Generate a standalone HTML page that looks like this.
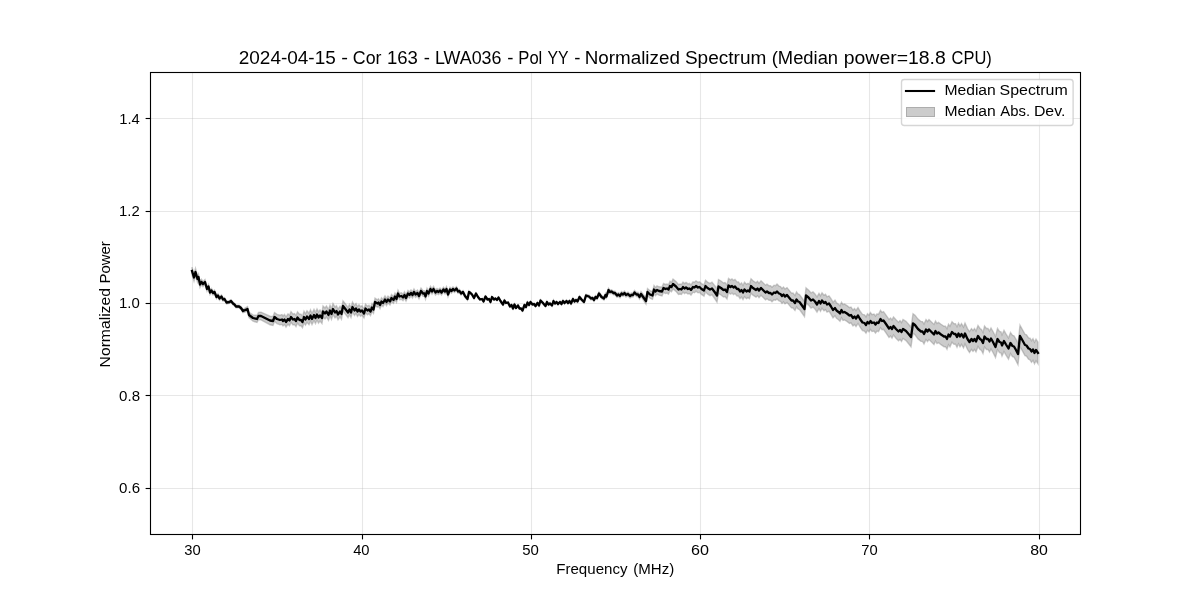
<!DOCTYPE html>
<html><head><meta charset="utf-8"><title>Normalized Spectrum</title>
<style>
html,body{margin:0;padding:0;background:#fff;}
body{width:1200px;height:600px;overflow:hidden;}
svg{display:block;}
text{font-family:"Liberation Sans",sans-serif;fill:#000;}
</style></head><body>
<svg width="1200" height="600" viewBox="0 0 1200 600">
<rect x="0" y="0" width="1200" height="600" fill="#ffffff"/>
<g stroke="#b0b0b0" stroke-opacity="0.3" stroke-width="1.11" fill="none"><line x1="192.5" y1="72.5" x2="192.5" y2="534.5"/><line x1="362.5" y1="72.5" x2="362.5" y2="534.5"/><line x1="531.5" y1="72.5" x2="531.5" y2="534.5"/><line x1="700.5" y1="72.5" x2="700.5" y2="534.5"/><line x1="869.5" y1="72.5" x2="869.5" y2="534.5"/><line x1="1039.5" y1="72.5" x2="1039.5" y2="534.5"/><line x1="150.5" y1="118.5" x2="1080.5" y2="118.5"/><line x1="150.5" y1="211.5" x2="1080.5" y2="211.5"/><line x1="150.5" y1="303.5" x2="1080.5" y2="303.5"/><line x1="150.5" y1="395.5" x2="1080.5" y2="395.5"/><line x1="150.5" y1="488.5" x2="1080.5" y2="488.5"/></g>
<path d="M192.0,267.1 L194.0,273.8 L195.5,268.4 L197.5,275.7 L198.5,273.9 L200.0,281.6 L201.5,279.3 L203.0,281.4 L205.0,279.6 L207.0,286.7 L208.5,284.3 L210.0,290.4 L211.5,288.5 L213.0,291.0 L214.5,290.1 L216.5,295.2 L218.0,293.7 L219.5,296.8 L221.5,294.9 L223.0,297.9 L224.5,297.5 L226.5,301.0 L229.5,300.6 L231.0,299.6 L233.0,302.1 L234.5,303.2 L236.0,305.2 L239.0,305.3 L241.0,306.6 L243.0,309.3 L247.5,306.6 L249.0,312.4 L253.0,314.9 L257.0,315.5 L258.5,312.4 L261.0,312.1 L266.0,314.4 L270.0,316.2 L273.0,316.6 L274.5,312.5 L277.0,314.4 L280.0,315.2 L282.0,314.6 L283.0,316.1 L284.5,314.5 L286.0,316.9 L288.0,313.8 L289.5,315.2 L291.0,311.6 L293.0,314.1 L294.5,313.5 L296.0,315.4 L297.5,311.8 L299.5,314.2 L301.0,314.2 L302.5,316.2 L304.0,311.2 L305.5,313.8 L307.0,310.8 L309.0,313.3 L310.5,309.8 L312.0,313.4 L314.0,309.4 L315.5,312.4 L317.0,308.9 L318.5,311.9 L320.0,309.9 L322.0,312.5 L323.0,306.0 L325.0,308.0 L326.5,306.0 L328.5,309.6 L330.0,305.1 L331.5,308.6 L333.0,303.6 L335.0,307.1 L336.5,305.7 L338.0,309.2 L340.0,306.2 L341.5,308.7 L343.0,300.8 L345.0,303.3 L348.0,307.4 L349.5,304.4 L351.0,307.5 L352.5,302.0 L354.5,305.6 L356.0,303.6 L357.5,306.6 L359.0,304.7 L360.5,306.7 L362.0,305.8 L364.0,309.0 L365.5,304.1 L367.5,306.2 L369.0,305.3 L370.5,307.4 L372.0,303.5 L373.5,305.6 L375.0,298.2 L377.5,299.8 L378.5,298.8 L380.0,301.3 L381.5,297.8 L383.0,299.4 L385.0,295.9 L386.5,298.4 L388.0,296.0 L390.0,298.0 L391.5,294.5 L393.5,296.6 L395.0,293.1 L396.5,295.6 L398.0,290.2 L399.5,293.2 L401.5,292.7 L403.0,294.3 L404.5,291.8 L406.0,294.8 L408.0,290.4 L409.5,291.9 L411.0,289.9 L412.5,291.9 L414.0,289.0 L415.5,291.5 L417.5,290.1 L419.0,293.1 L421.0,288.1 L423.0,290.7 L424.5,290.7 L425.5,293.7 L427.0,288.2 L428.5,290.8 L430.5,286.3 L432.0,288.8 L433.5,286.4 L435.5,289.9 L437.0,288.4 L438.5,289.5 L440.0,288.0 L441.5,290.0 L443.5,287.1 L445.0,289.1 L446.5,286.6 L448.0,292.2 L450.0,287.2 L451.5,288.8 L453.0,286.9 L454.5,288.5 L456.5,286.6 L458.0,289.7 L459.5,289.3 L461.0,291.9 L463.0,290.5 L465.0,294.6 L467.5,297.8 L469.0,290.8 L470.5,291.9 L472.0,293.5 L474.0,297.1 L476.0,292.8 L478.0,296.4 L480.0,299.0 L482.0,298.5 L483.5,301.0 L485.5,296.0 L487.5,298.9 L489.0,298.4 L490.5,301.4 L492.0,296.4 L494.0,298.9 L495.5,297.9 L497.0,299.4 L498.5,296.9 L500.5,300.4 L503.0,303.8 L504.5,299.8 L506.0,302.3 L508.0,301.8 L510.0,305.8 L511.5,304.3 L513.0,307.8 L514.5,303.8 L516.0,307.3 L518.0,304.7 L519.5,307.7 L521.0,307.7 L522.5,309.7 L524.5,304.2 L526.0,306.2 L527.5,301.7 L529.0,304.2 L530.5,301.2 L532.5,303.6 L534.0,303.1 L535.5,305.1 L537.5,302.1 L539.0,304.6 L540.5,299.6 L542.5,301.6 L545.5,305.1 L547.0,301.1 L548.5,303.5 L550.0,302.5 L552.0,304.5 L553.5,300.0 L555.0,302.5 L556.5,301.0 L558.0,303.0 L560.0,301.0 L561.5,303.0 L563.0,299.9 L564.5,301.9 L566.5,299.9 L568.0,301.9 L569.5,299.9 L571.0,302.4 L573.0,297.9 L574.5,300.4 L576.0,298.9 L577.5,300.4 L579.5,295.8 L581.5,298.3 L584.0,300.8 L586.0,294.3 L589.0,295.2 L591.0,297.1 L592.5,296.6 L594.0,298.6 L595.5,295.5 L597.0,296.5 L599.0,291.9 L601.5,295.4 L604.0,296.8 L605.5,293.3 L606.5,294.8 L608.5,288.3 L610.0,290.2 L611.5,289.7 L613.5,291.2 L615.0,291.2 L617.0,293.6 L618.5,292.6 L620.0,294.1 L621.5,291.6 L623.0,292.6 L624.5,291.0 L626.0,293.0 L628.0,292.0 L630.0,293.9 L631.5,292.9 L633.0,292.9 L634.5,290.4 L636.5,292.4 L638.0,292.3 L639.5,294.8 L641.0,291.6 L643.5,294.7 L646.0,297.8 L647.5,288.6 L650.0,290.7 L652.5,291.6 L654.0,285.5 L655.5,287.4 L657.0,285.9 L659.0,286.8 L662.0,287.1 L663.5,283.5 L665.5,284.4 L667.0,283.9 L668.5,284.8 L670.0,281.2 L671.5,282.2 L673.0,279.1 L676.0,281.6 L678.5,284.6 L680.0,284.0 L681.5,284.5 L683.0,282.0 L684.5,283.5 L686.0,282.4 L688.0,283.9 L689.5,283.4 L691.0,284.9 L693.0,281.8 L694.5,282.3 L696.0,280.8 L698.0,282.2 L699.5,281.7 L701.5,283.6 L704.0,284.9 L705.5,280.2 L707.5,282.1 L710.0,283.4 L712.0,282.2 L715.0,285.9 L717.0,288.8 L718.5,279.6 L721.0,281.0 L723.5,283.0 L725.0,282.5 L727.0,285.0 L728.5,278.4 L730.5,279.9 L732.0,278.9 L733.5,280.4 L735.0,279.4 L737.0,281.9 L738.5,281.9 L740.0,284.4 L741.5,282.9 L743.0,285.4 L744.5,282.3 L746.5,284.3 L748.0,283.3 L749.5,284.3 L751.0,278.8 L753.0,280.8 L756.0,282.8 L757.5,281.3 L759.0,283.3 L761.0,280.7 L763.0,282.7 L765.5,285.2 L767.0,284.2 L769.0,285.7 L770.5,285.7 L772.0,287.2 L774.0,285.2 L775.5,285.7 L777.0,284.1 L779.0,286.1 L780.5,286.6 L782.0,288.6 L783.5,287.1 L785.0,289.1 L787.0,287.6 L789.0,290.1 L791.5,293.1 L793.0,293.0 L795.0,295.5 L796.5,292.0 L798.0,294.0 L799.5,294.5 L802.0,298.0 L804.5,301.5 L806.0,287.9 L808.5,289.9 L811.0,292.9 L813.0,291.9 L815.0,293.9 L817.0,296.9 L819.0,293.3 L820.5,295.8 L822.0,292.8 L824.0,295.3 L825.5,294.3 L827.0,296.8 L829.0,295.8 L831.0,298.7 L833.0,302.2 L835.0,300.2 L836.5,302.7 L838.5,304.2 L840.0,305.7 L841.5,302.2 L843.0,304.6 L844.5,304.1 L847.0,305.6 L849.5,307.6 L851.0,307.1 L853.0,310.1 L854.5,308.5 L856.0,310.5 L858.0,307.5 L860.0,311.0 L862.5,314.4 L864.5,314.8 L866.0,316.8 L867.5,313.7 L869.0,315.2 L870.5,312.6 L872.0,314.6 L874.0,314.0 L875.5,316.0 L877.0,313.9 L878.5,314.4 L880.5,310.3 L882.0,312.3 L883.5,311.7 L886.0,315.1 L889.0,319.5 L890.5,318.0 L892.0,319.9 L893.5,316.9 L896.0,319.8 L898.5,322.2 L900.0,320.6 L901.5,322.6 L903.0,319.5 L906.0,321.4 L909.0,324.8 L911.0,327.3 L913.0,313.7 L915.0,315.2 L918.0,319.1 L921.0,321.6 L922.5,321.6 L924.0,324.1 L926.0,319.5 L927.5,321.5 L929.0,319.5 L930.5,321.0 L932.0,322.4 L934.0,324.4 L935.5,320.9 L937.0,323.4 L938.5,322.4 L941.0,324.3 L944.0,326.3 L945.5,326.3 L947.0,328.7 L948.5,324.2 L950.0,326.2 L952.0,321.7 L954.0,323.7 L955.5,323.7 L957.0,326.7 L958.5,323.2 L960.0,326.1 L961.5,323.6 L963.5,327.1 L965.0,323.1 L967.5,328.6 L969.5,331.6 L971.5,328.6 L973.0,330.6 L974.5,328.6 L976.0,331.1 L978.0,325.5 L980.0,328.5 L981.5,329.5 L983.0,332.5 L984.5,326.0 L986.5,328.5 L988.0,328.5 L989.5,331.0 L991.0,328.0 L993.0,331.5 L995.5,336.4 L997.5,328.4 L999.5,331.4 L1001.0,331.9 L1002.0,334.9 L1004.0,330.4 L1006.0,333.9 L1008.5,337.9 L1010.5,332.4 L1012.5,335.3 L1014.0,335.8 L1016.0,339.3 L1018.0,343.3 L1020.0,325.3 L1022.0,328.8 L1025.0,334.3 L1026.5,334.8 L1028.5,337.8 L1030.0,338.2 L1031.5,340.7 L1033.0,338.7 L1034.5,342.2 L1036.0,339.2 L1038.0,342.2 L1038.0,363.8 L1036.0,360.8 L1034.5,363.8 L1033.0,360.3 L1031.5,362.3 L1030.0,359.8 L1028.5,359.2 L1026.5,356.2 L1025.0,355.7 L1022.0,350.2 L1020.0,346.7 L1018.0,364.7 L1016.0,360.7 L1014.0,357.2 L1012.5,356.7 L1010.5,353.6 L1008.5,359.1 L1006.0,355.1 L1004.0,351.6 L1002.0,356.1 L1001.0,353.1 L999.5,352.6 L997.5,349.6 L995.5,357.6 L993.0,352.5 L991.0,349.0 L989.5,352.0 L988.0,349.5 L986.5,349.5 L984.5,347.0 L983.0,353.5 L981.5,350.5 L980.0,349.5 L978.0,346.5 L976.0,351.9 L974.5,349.4 L973.0,351.4 L971.5,349.4 L969.5,352.4 L967.5,349.4 L965.0,343.9 L963.5,347.9 L961.5,344.4 L960.0,346.9 L958.5,343.8 L957.0,347.3 L955.5,344.3 L954.0,344.3 L952.0,342.3 L950.0,346.8 L948.5,344.8 L947.0,349.3 L945.5,346.7 L944.0,346.7 L941.0,344.7 L938.5,342.6 L937.0,343.6 L935.5,341.1 L934.0,344.6 L932.0,342.6 L930.5,341.0 L929.0,339.5 L927.5,341.5 L926.0,339.5 L924.0,343.9 L922.5,341.4 L921.0,341.4 L918.0,338.9 L915.0,334.8 L913.0,333.3 L911.0,346.7 L909.0,344.2 L906.0,340.6 L903.0,338.5 L901.5,341.4 L900.0,339.4 L898.5,340.8 L896.0,338.2 L893.5,335.1 L892.0,338.1 L890.5,336.0 L889.0,337.5 L886.0,332.9 L883.5,329.3 L882.0,329.7 L880.5,327.7 L878.5,331.6 L877.0,331.1 L875.5,333.0 L874.0,331.0 L872.0,331.4 L870.5,329.4 L869.0,331.8 L867.5,330.3 L866.0,333.2 L864.5,331.2 L862.5,330.6 L860.0,327.0 L858.0,323.5 L856.0,326.5 L854.5,324.5 L853.0,325.9 L851.0,322.9 L849.5,323.4 L847.0,321.4 L844.5,319.9 L843.0,320.4 L841.5,317.8 L840.0,321.3 L838.5,319.8 L836.5,318.3 L835.0,315.8 L833.0,317.8 L831.0,314.3 L829.0,311.2 L827.0,312.2 L825.5,309.7 L824.0,310.7 L822.0,308.2 L820.5,311.2 L819.0,308.7 L817.0,312.1 L815.0,309.1 L813.0,307.1 L811.0,308.1 L808.5,305.1 L806.0,303.1 L804.5,316.5 L802.0,313.0 L799.5,309.5 L798.0,309.0 L796.5,307.0 L795.0,310.5 L793.0,308.0 L791.5,307.9 L789.0,304.9 L787.0,302.4 L785.0,303.9 L783.5,301.9 L782.0,303.4 L780.5,301.4 L779.0,300.9 L777.0,298.9 L775.5,300.3 L774.0,299.8 L772.0,301.8 L770.5,300.3 L769.0,300.3 L767.0,298.8 L765.5,299.8 L763.0,297.3 L761.0,295.3 L759.0,297.7 L757.5,295.7 L756.0,297.2 L753.0,295.2 L751.0,293.2 L749.5,298.7 L748.0,297.7 L746.5,298.7 L744.5,296.7 L743.0,299.6 L741.5,297.1 L740.0,298.6 L738.5,296.1 L737.0,296.1 L735.0,293.6 L733.5,294.6 L732.0,293.1 L730.5,294.1 L728.5,292.6 L727.0,299.0 L725.0,296.5 L723.5,297.0 L721.0,295.0 L718.5,293.4 L717.0,302.2 L715.0,299.1 L712.0,294.8 L710.0,295.6 L707.5,293.9 L705.5,291.8 L704.0,296.1 L701.5,294.4 L699.5,292.3 L698.0,292.8 L696.0,291.2 L694.5,292.7 L693.0,292.2 L691.0,295.1 L689.5,293.6 L688.0,294.1 L686.0,292.6 L684.5,293.5 L683.0,292.0 L681.5,294.5 L680.0,294.0 L678.5,294.4 L676.0,291.4 L673.0,288.9 L671.5,291.8 L670.0,290.8 L668.5,294.2 L667.0,293.1 L665.5,293.6 L663.5,292.5 L662.0,295.9 L659.0,295.2 L657.0,294.1 L655.5,295.6 L654.0,293.5 L652.5,299.4 L650.0,298.3 L647.5,295.4 L646.0,304.2 L643.5,300.3 L641.0,296.4 L639.5,299.2 L638.0,296.7 L636.5,296.6 L634.5,294.6 L633.0,297.1 L631.5,297.1 L630.0,298.1 L628.0,296.0 L626.0,297.0 L624.5,295.0 L623.0,296.4 L621.5,295.4 L620.0,297.9 L618.5,296.4 L617.0,297.4 L615.0,294.8 L613.5,294.8 L611.5,293.3 L610.0,293.8 L608.5,291.7 L606.5,298.2 L605.5,296.7 L604.0,300.2 L601.5,298.6 L599.0,295.1 L597.0,299.5 L595.5,298.5 L594.0,301.4 L592.5,299.4 L591.0,299.9 L589.0,297.8 L586.0,296.7 L584.0,303.2 L581.5,300.7 L579.5,298.2 L577.5,302.6 L576.0,301.1 L574.5,302.6 L573.0,300.1 L571.0,304.6 L569.5,302.1 L568.0,304.1 L566.5,302.1 L564.5,304.1 L563.0,302.1 L561.5,305.0 L560.0,303.0 L558.0,305.0 L556.5,303.0 L555.0,304.5 L553.5,302.0 L552.0,306.5 L550.0,304.5 L548.5,305.5 L547.0,302.9 L545.5,306.9 L542.5,303.4 L540.5,301.4 L539.0,306.4 L537.5,303.9 L535.5,306.9 L534.0,304.9 L532.5,305.4 L530.5,302.8 L529.0,305.8 L527.5,303.3 L526.0,307.8 L524.5,305.8 L522.5,311.3 L521.0,309.3 L519.5,309.3 L518.0,306.3 L516.0,308.7 L514.5,305.2 L513.0,309.2 L511.5,305.7 L510.0,307.2 L508.0,303.2 L506.0,303.7 L504.5,301.2 L503.0,305.2 L500.5,301.6 L498.5,298.1 L497.0,300.6 L495.5,299.1 L494.0,300.1 L492.0,297.6 L490.5,302.6 L489.0,299.6 L487.5,300.1 L485.5,297.0 L483.5,302.0 L482.0,299.5 L480.0,300.0 L478.0,297.6 L476.0,294.2 L474.0,298.9 L472.0,295.5 L470.5,294.1 L469.0,293.2 L467.5,300.2 L465.0,297.4 L463.0,293.5 L461.0,295.1 L459.5,292.7 L458.0,293.3 L456.5,290.4 L454.5,292.5 L453.0,291.1 L451.5,293.2 L450.0,291.8 L448.0,296.8 L446.5,291.4 L445.0,293.9 L443.5,291.9 L441.5,295.0 L440.0,293.0 L438.5,294.5 L437.0,293.6 L435.5,295.1 L433.5,291.6 L432.0,294.2 L430.5,291.7 L428.5,296.2 L427.0,293.8 L425.5,299.3 L424.5,296.3 L423.0,296.3 L421.0,293.9 L419.0,298.9 L417.5,295.9 L415.5,297.5 L414.0,295.0 L412.5,298.1 L411.0,296.1 L409.5,298.1 L408.0,296.6 L406.0,301.2 L404.5,298.2 L403.0,300.7 L401.5,299.3 L399.5,299.8 L398.0,296.8 L396.5,302.4 L395.0,299.9 L393.5,303.4 L391.5,301.5 L390.0,305.0 L388.0,303.0 L386.5,305.6 L385.0,303.1 L383.0,306.6 L381.5,305.2 L380.0,308.7 L378.5,306.2 L377.5,307.2 L375.0,305.8 L373.5,313.4 L372.0,311.5 L370.5,315.6 L369.0,313.7 L367.5,314.8 L365.5,312.9 L364.0,318.0 L362.0,315.2 L360.5,316.3 L359.0,314.3 L357.5,316.4 L356.0,313.4 L354.5,315.4 L352.5,312.0 L351.0,317.5 L349.5,314.6 L348.0,317.6 L345.0,313.7 L343.0,311.2 L341.5,319.3 L340.0,316.8 L338.0,319.8 L336.5,316.3 L335.0,317.9 L333.0,314.4 L331.5,319.4 L330.0,315.9 L328.5,320.4 L326.5,317.0 L325.0,319.0 L323.0,317.0 L322.0,323.5 L320.0,321.1 L318.5,323.1 L317.0,320.1 L315.5,323.6 L314.0,320.6 L312.0,324.6 L310.5,321.2 L309.0,324.7 L307.0,322.2 L305.5,325.2 L304.0,322.8 L302.5,327.8 L301.0,325.8 L299.5,325.8 L297.5,323.2 L296.0,326.6 L294.5,324.5 L293.0,324.9 L291.0,322.4 L289.5,325.8 L288.0,324.2 L286.0,327.1 L284.5,324.5 L283.0,325.9 L282.0,324.4 L280.0,324.8 L277.0,323.6 L274.5,321.5 L273.0,325.4 L270.0,324.8 L266.0,322.6 L261.0,319.9 L258.5,319.6 L257.0,322.5 L253.0,321.1 L249.0,317.6 L247.5,311.4 L243.0,312.7 L241.0,309.4 L239.0,307.7 L236.0,307.8 L234.5,305.8 L233.0,304.9 L231.0,302.4 L229.5,303.4 L226.5,304.0 L224.5,300.5 L223.0,301.1 L221.5,298.1 L219.5,300.2 L218.0,297.3 L216.5,298.8 L214.5,293.9 L213.0,295.0 L211.5,292.5 L210.0,294.6 L208.5,288.7 L207.0,291.3 L205.0,284.4 L203.0,286.6 L201.5,284.7 L200.0,287.4 L198.5,280.1 L197.5,282.3 L195.5,275.6 L194.0,281.2 L192.0,274.9 Z" fill="#808080" fill-opacity="0.4" stroke="#808080" stroke-opacity="0.4" stroke-width="1.39" stroke-linejoin="miter"/>
<path d="M192.0,271.0 L194.0,277.5 L195.5,272.0 L197.5,279.0 L198.5,277.0 L200.0,284.5 L201.5,282.0 L203.0,284.0 L205.0,282.0 L207.0,289.0 L208.5,286.5 L210.0,292.5 L211.5,290.5 L213.0,293.0 L214.5,292.0 L216.5,297.0 L218.0,295.5 L219.5,298.5 L221.5,296.5 L223.0,299.5 L224.5,299.0 L226.5,302.5 L229.5,302.0 L231.0,301.0 L233.0,303.5 L234.5,304.5 L236.0,306.5 L239.0,306.5 L241.0,308.0 L243.0,311.0 L247.5,309.0 L249.0,315.0 L253.0,318.0 L257.0,319.0 L258.5,316.0 L261.0,316.0 L266.0,318.5 L270.0,320.5 L273.0,321.0 L274.5,317.0 L277.0,319.0 L280.0,320.0 L282.0,319.5 L283.0,321.0 L284.5,319.5 L286.0,322.0 L288.0,319.0 L289.5,320.5 L291.0,317.0 L293.0,319.5 L294.5,319.0 L296.0,321.0 L297.5,317.5 L299.5,320.0 L301.0,320.0 L302.5,322.0 L304.0,317.0 L305.5,319.5 L307.0,316.5 L309.0,319.0 L310.5,315.5 L312.0,319.0 L314.0,315.0 L315.5,318.0 L317.0,314.5 L318.5,317.5 L320.0,315.5 L322.0,318.0 L323.0,311.5 L325.0,313.5 L326.5,311.5 L328.5,315.0 L330.0,310.5 L331.5,314.0 L333.0,309.0 L335.0,312.5 L336.5,311.0 L338.0,314.5 L340.0,311.5 L341.5,314.0 L343.0,306.0 L345.0,308.5 L348.0,312.5 L349.5,309.5 L351.0,312.5 L352.5,307.0 L354.5,310.5 L356.0,308.5 L357.5,311.5 L359.0,309.5 L360.5,311.5 L362.0,310.5 L364.0,313.5 L365.5,308.5 L367.5,310.5 L369.0,309.5 L370.5,311.5 L372.0,307.5 L373.5,309.5 L375.0,302.0 L377.5,303.5 L378.5,302.5 L380.0,305.0 L381.5,301.5 L383.0,303.0 L385.0,299.5 L386.5,302.0 L388.0,299.5 L390.0,301.5 L391.5,298.0 L393.5,300.0 L395.0,296.5 L396.5,299.0 L398.0,293.5 L399.5,296.5 L401.5,296.0 L403.0,297.5 L404.5,295.0 L406.0,298.0 L408.0,293.5 L409.5,295.0 L411.0,293.0 L412.5,295.0 L414.0,292.0 L415.5,294.5 L417.5,293.0 L419.0,296.0 L421.0,291.0 L423.0,293.5 L424.5,293.5 L425.5,296.5 L427.0,291.0 L428.5,293.5 L430.5,289.0 L432.0,291.5 L433.5,289.0 L435.5,292.5 L437.0,291.0 L438.5,292.0 L440.0,290.5 L441.5,292.5 L443.5,289.5 L445.0,291.5 L446.5,289.0 L448.0,294.5 L450.0,289.5 L451.5,291.0 L453.0,289.0 L454.5,290.5 L456.5,288.5 L458.0,291.5 L459.5,291.0 L461.0,293.5 L463.0,292.0 L465.0,296.0 L467.5,299.0 L469.0,292.0 L470.5,293.0 L472.0,294.5 L474.0,298.0 L476.0,293.5 L478.0,297.0 L480.0,299.5 L482.0,299.0 L483.5,301.5 L485.5,296.5 L487.5,299.5 L489.0,299.0 L490.5,302.0 L492.0,297.0 L494.0,299.5 L495.5,298.5 L497.0,300.0 L498.5,297.5 L500.5,301.0 L503.0,304.5 L504.5,300.5 L506.0,303.0 L508.0,302.5 L510.0,306.5 L511.5,305.0 L513.0,308.5 L514.5,304.5 L516.0,308.0 L518.0,305.5 L519.5,308.5 L521.0,308.5 L522.5,310.5 L524.5,305.0 L526.0,307.0 L527.5,302.5 L529.0,305.0 L530.5,302.0 L532.5,304.5 L534.0,304.0 L535.5,306.0 L537.5,303.0 L539.0,305.5 L540.5,300.5 L542.5,302.5 L545.5,306.0 L547.0,302.0 L548.5,304.5 L550.0,303.5 L552.0,305.5 L553.5,301.0 L555.0,303.5 L556.5,302.0 L558.0,304.0 L560.0,302.0 L561.5,304.0 L563.0,301.0 L564.5,303.0 L566.5,301.0 L568.0,303.0 L569.5,301.0 L571.0,303.5 L573.0,299.0 L574.5,301.5 L576.0,300.0 L577.5,301.5 L579.5,297.0 L581.5,299.5 L584.0,302.0 L586.0,295.5 L589.0,296.5 L591.0,298.5 L592.5,298.0 L594.0,300.0 L595.5,297.0 L597.0,298.0 L599.0,293.5 L601.5,297.0 L604.0,298.5 L605.5,295.0 L606.5,296.5 L608.5,290.0 L610.0,292.0 L611.5,291.5 L613.5,293.0 L615.0,293.0 L617.0,295.5 L618.5,294.5 L620.0,296.0 L621.5,293.5 L623.0,294.5 L624.5,293.0 L626.0,295.0 L628.0,294.0 L630.0,296.0 L631.5,295.0 L633.0,295.0 L634.5,292.5 L636.5,294.5 L638.0,294.5 L639.5,297.0 L641.0,294.0 L643.5,297.5 L646.0,301.0 L647.5,292.0 L650.0,294.5 L652.5,295.5 L654.0,289.5 L655.5,291.5 L657.0,290.0 L659.0,291.0 L662.0,291.5 L663.5,288.0 L665.5,289.0 L667.0,288.5 L668.5,289.5 L670.0,286.0 L671.5,287.0 L673.0,284.0 L676.0,286.5 L678.5,289.5 L680.0,289.0 L681.5,289.5 L683.0,287.0 L684.5,288.5 L686.0,287.5 L688.0,289.0 L689.5,288.5 L691.0,290.0 L693.0,287.0 L694.5,287.5 L696.0,286.0 L698.0,287.5 L699.5,287.0 L701.5,289.0 L704.0,290.5 L705.5,286.0 L707.5,288.0 L710.0,289.5 L712.0,288.5 L715.0,292.5 L717.0,295.5 L718.5,286.5 L721.0,288.0 L723.5,290.0 L725.0,289.5 L727.0,292.0 L728.5,285.5 L730.5,287.0 L732.0,286.0 L733.5,287.5 L735.0,286.5 L737.0,289.0 L738.5,289.0 L740.0,291.5 L741.5,290.0 L743.0,292.5 L744.5,289.5 L746.5,291.5 L748.0,290.5 L749.5,291.5 L751.0,286.0 L753.0,288.0 L756.0,290.0 L757.5,288.5 L759.0,290.5 L761.0,288.0 L763.0,290.0 L765.5,292.5 L767.0,291.5 L769.0,293.0 L770.5,293.0 L772.0,294.5 L774.0,292.5 L775.5,293.0 L777.0,291.5 L779.0,293.5 L780.5,294.0 L782.0,296.0 L783.5,294.5 L785.0,296.5 L787.0,295.0 L789.0,297.5 L791.5,300.5 L793.0,300.5 L795.0,303.0 L796.5,299.5 L798.0,301.5 L799.5,302.0 L802.0,305.5 L804.5,309.0 L806.0,295.5 L808.5,297.5 L811.0,300.5 L813.0,299.5 L815.0,301.5 L817.0,304.5 L819.0,301.0 L820.5,303.5 L822.0,300.5 L824.0,303.0 L825.5,302.0 L827.0,304.5 L829.0,303.5 L831.0,306.5 L833.0,310.0 L835.0,308.0 L836.5,310.5 L838.5,312.0 L840.0,313.5 L841.5,310.0 L843.0,312.5 L844.5,312.0 L847.0,313.5 L849.5,315.5 L851.0,315.0 L853.0,318.0 L854.5,316.5 L856.0,318.5 L858.0,315.5 L860.0,319.0 L862.5,322.5 L864.5,323.0 L866.0,325.0 L867.5,322.0 L869.0,323.5 L870.5,321.0 L872.0,323.0 L874.0,322.5 L875.5,324.5 L877.0,322.5 L878.5,323.0 L880.5,319.0 L882.0,321.0 L883.5,320.5 L886.0,324.0 L889.0,328.5 L890.5,327.0 L892.0,329.0 L893.5,326.0 L896.0,329.0 L898.5,331.5 L900.0,330.0 L901.5,332.0 L903.0,329.0 L906.0,331.0 L909.0,334.5 L911.0,337.0 L913.0,323.5 L915.0,325.0 L918.0,329.0 L921.0,331.5 L922.5,331.5 L924.0,334.0 L926.0,329.5 L927.5,331.5 L929.0,329.5 L930.5,331.0 L932.0,332.5 L934.0,334.5 L935.5,331.0 L937.0,333.5 L938.5,332.5 L941.0,334.5 L944.0,336.5 L945.5,336.5 L947.0,339.0 L948.5,334.5 L950.0,336.5 L952.0,332.0 L954.0,334.0 L955.5,334.0 L957.0,337.0 L958.5,333.5 L960.0,336.5 L961.5,334.0 L963.5,337.5 L965.0,333.5 L967.5,339.0 L969.5,342.0 L971.5,339.0 L973.0,341.0 L974.5,339.0 L976.0,341.5 L978.0,336.0 L980.0,339.0 L981.5,340.0 L983.0,343.0 L984.5,336.5 L986.5,339.0 L988.0,339.0 L989.5,341.5 L991.0,338.5 L993.0,342.0 L995.5,347.0 L997.5,339.0 L999.5,342.0 L1001.0,342.5 L1002.0,345.5 L1004.0,341.0 L1006.0,344.5 L1008.5,348.5 L1010.5,343.0 L1012.5,346.0 L1014.0,346.5 L1016.0,350.0 L1018.0,354.0 L1020.0,336.0 L1022.0,339.5 L1025.0,345.0 L1026.5,345.5 L1028.5,348.5 L1030.0,349.0 L1031.5,351.5 L1033.0,349.5 L1034.5,353.0 L1036.0,350.0 L1038.0,353.0" fill="none" stroke="#000" stroke-width="2.3" stroke-linejoin="round" stroke-linecap="square"/>
<rect x="150.5" y="72.5" width="930" height="462" fill="none" stroke="#000" stroke-width="1.11"/>
<g stroke="#000" stroke-width="1.11"><line x1="192.5" y1="534.5" x2="192.5" y2="539.4"/><line x1="362.5" y1="534.5" x2="362.5" y2="539.4"/><line x1="531.5" y1="534.5" x2="531.5" y2="539.4"/><line x1="700.5" y1="534.5" x2="700.5" y2="539.4"/><line x1="869.5" y1="534.5" x2="869.5" y2="539.4"/><line x1="1039.5" y1="534.5" x2="1039.5" y2="539.4"/><line x1="145.6" y1="118.5" x2="150.5" y2="118.5"/><line x1="145.6" y1="211.5" x2="150.5" y2="211.5"/><line x1="145.6" y1="303.5" x2="150.5" y2="303.5"/><line x1="145.6" y1="395.5" x2="150.5" y2="395.5"/><line x1="145.6" y1="488.5" x2="150.5" y2="488.5"/></g>
<rect x="901.5" y="79.5" width="171.6" height="46" rx="2.8" ry="2.8" fill="#fff" fill-opacity="0.8" stroke="#cccccc" stroke-opacity="0.8" stroke-width="1.39"/>
<line x1="905.95" y1="91" x2="934.05" y2="91" stroke="#000" stroke-width="2.08" stroke-linecap="square"/>
<rect x="906" y="107" width="29" height="10" fill="#808080" fill-opacity="0.4"/><rect x="906.5" y="107.5" width="28" height="9" fill="none" stroke="#808080" stroke-opacity="0.4" stroke-width="1"/>
<g opacity="0.999">
<text x="184.20" y="555.00" font-size="14.7" textLength="16.43" lengthAdjust="spacingAndGlyphs">30</text>
<text x="353.15" y="555.00" font-size="14.7" textLength="16.41" lengthAdjust="spacingAndGlyphs">40</text>
<text x="522.25" y="555.00" font-size="14.7" textLength="16.65" lengthAdjust="spacingAndGlyphs">50</text>
<text x="690.95" y="555.00" font-size="14.7" textLength="17.97" lengthAdjust="spacingAndGlyphs">60</text>
<text x="861.25" y="555.00" font-size="14.7" textLength="16.40" lengthAdjust="spacingAndGlyphs">70</text>
<text x="1030.20" y="555.00" font-size="14.7" textLength="17.69" lengthAdjust="spacingAndGlyphs">80</text>
<text x="119.20" y="124.00" font-size="14.7" textLength="20.61" lengthAdjust="spacingAndGlyphs">1.4</text>
<text x="119.05" y="216.00" font-size="14.7" textLength="20.63" lengthAdjust="spacingAndGlyphs">1.2</text>
<text x="119.05" y="308.00" font-size="14.7" textLength="20.80" lengthAdjust="spacingAndGlyphs">1.0</text>
<text x="119.05" y="401.00" font-size="14.7" textLength="20.98" lengthAdjust="spacingAndGlyphs">0.8</text>
<text x="119.05" y="493.00" font-size="14.7" textLength="20.98" lengthAdjust="spacingAndGlyphs">0.6</text>
<text x="556.25" y="573.80" font-size="14.7" textLength="71.27" lengthAdjust="spacingAndGlyphs">Frequency</text>
<text x="633.30" y="573.80" font-size="14.7" textLength="40.98" lengthAdjust="spacingAndGlyphs">(MHz)</text>
<text x="238.75" y="64.00" font-size="17.65" textLength="97.03" lengthAdjust="spacingAndGlyphs">2024-04-15</text>
<text x="341.30" y="64.00" font-size="17.65" textLength="6.73" lengthAdjust="spacingAndGlyphs">-</text>
<text x="352.80" y="64.00" font-size="17.65" textLength="28.70" lengthAdjust="spacingAndGlyphs">Cor</text>
<text x="386.95" y="64.00" font-size="17.65" textLength="30.96" lengthAdjust="spacingAndGlyphs">163</text>
<text x="423.75" y="64.00" font-size="17.65" textLength="6.19" lengthAdjust="spacingAndGlyphs">-</text>
<text x="434.95" y="64.00" font-size="17.65" textLength="66.57" lengthAdjust="spacingAndGlyphs">LWA036</text>
<text x="507.25" y="64.00" font-size="17.65" textLength="6.19" lengthAdjust="spacingAndGlyphs">-</text>
<text x="518.30" y="64.00" font-size="17.65" textLength="24.02" lengthAdjust="spacingAndGlyphs">Pol</text>
<text x="547.50" y="64.00" font-size="17.65" textLength="21.05" lengthAdjust="spacingAndGlyphs">YY</text>
<text x="574.25" y="64.00" font-size="17.65" textLength="6.19" lengthAdjust="spacingAndGlyphs">-</text>
<text x="584.70" y="64.00" font-size="17.65" textLength="95.18" lengthAdjust="spacingAndGlyphs">Normalized</text>
<text x="684.95" y="64.00" font-size="17.65" textLength="81.36" lengthAdjust="spacingAndGlyphs">Spectrum</text>
<text x="771.75" y="64.00" font-size="17.65" textLength="66.33" lengthAdjust="spacingAndGlyphs">(Median</text>
<text x="843.75" y="64.00" font-size="17.65" textLength="102.04" lengthAdjust="spacingAndGlyphs">power=18.8</text>
<text x="951.60" y="64.00" font-size="17.65" textLength="40.24" lengthAdjust="spacingAndGlyphs">CPU)</text>
<text x="944.40" y="94.90" font-size="14.7" textLength="51.40" lengthAdjust="spacingAndGlyphs">Median</text>
<text x="999.60" y="94.90" font-size="14.7" textLength="68.11" lengthAdjust="spacingAndGlyphs">Spectrum</text>
<text x="944.40" y="115.50" font-size="14.7" textLength="51.40" lengthAdjust="spacingAndGlyphs">Median</text>
<text x="1000.35" y="115.50" font-size="14.7" textLength="29.77" lengthAdjust="spacingAndGlyphs">Abs.</text>
<text x="1033.90" y="115.50" font-size="14.7" textLength="31.44" lengthAdjust="spacingAndGlyphs">Dev.</text>
<text transform="translate(109.70,367.40) rotate(-90)" font-size="14.7" textLength="79.31" lengthAdjust="spacingAndGlyphs">Normalized</text>
<text transform="translate(109.70,283.60) rotate(-90)" font-size="14.7" textLength="42.40" lengthAdjust="spacingAndGlyphs">Power</text>
</g>
</svg>
</body></html>
